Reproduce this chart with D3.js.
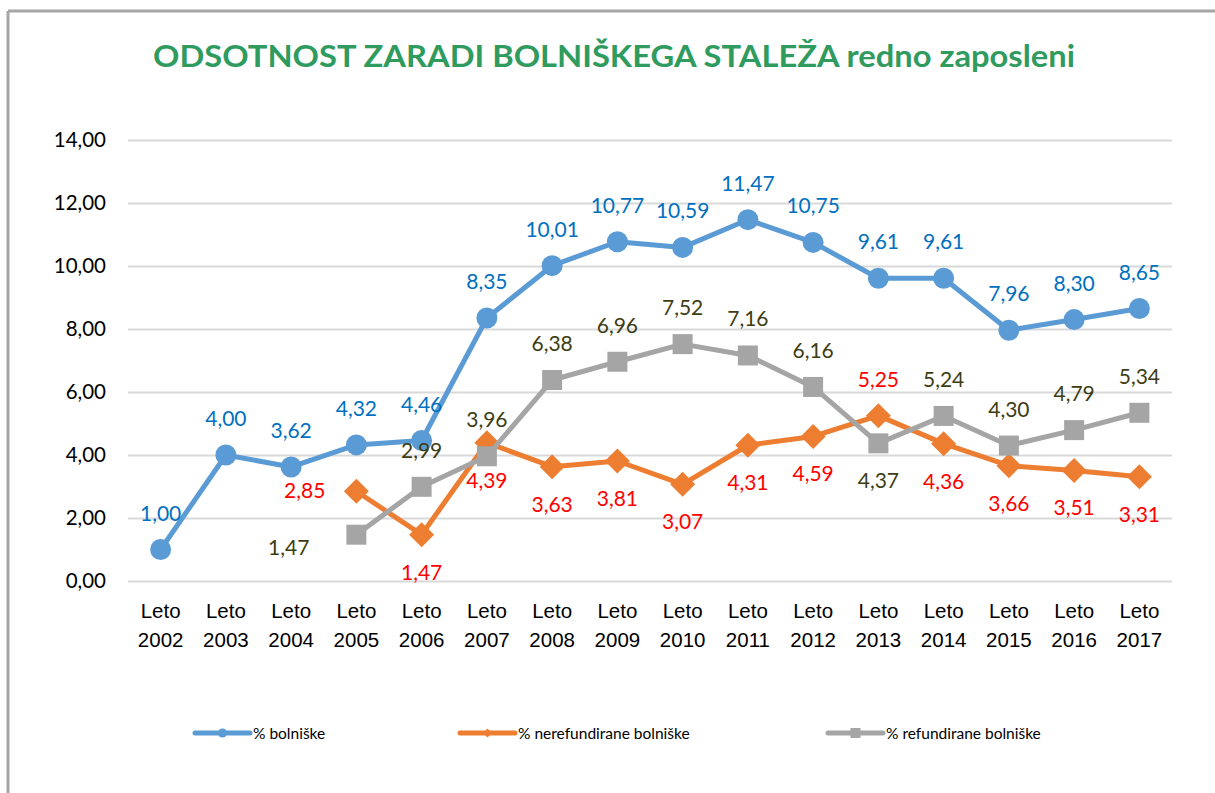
<!DOCTYPE html>
<html>
<head>
<meta charset="utf-8">
<script src="https://cdn.jsdelivr.net/npm/d3@7"></script>
<style>
  html, body { margin: 0; padding: 0; background: #fff; }
  svg { display: block; font-family: Lato, "Open Sans", sans-serif; }
</style>
</head>
<body>
<svg id="chart" width="1215" height="793"></svg>
<script>
const titleText = "ODSOTNOST ZARADI BOLNIŠKEGA STALEŽA redno zaposleni";
const years = ["2002","2003","2004","2005","2006","2007","2008","2009","2010","2011","2012","2013","2014","2015","2016","2017"];
const categoryPrefix = "Leto";
const yTicks = [0, 2, 4, 6, 8, 10, 12, 14];

const seriesNames = ["% bolniške", "% nerefundirane bolniške", "% refundirane bolniške"];
const bolniske = [1.00, 4.00, 3.62, 4.32, 4.46, 8.35, 10.01, 10.77, 10.59, 11.47, 10.75, 9.61, 9.61, 7.96, 8.30, 8.65];
const nerefundirane = [null, null, null, 2.85, 1.47, 4.39, 3.63, 3.81, 3.07, 4.31, 4.59, 5.25, 4.36, 3.66, 3.51, 3.31];
const refundirane = [null, null, null, 1.47, 2.99, 3.96, 6.38, 6.96, 7.52, 7.16, 6.16, 4.37, 5.24, 4.30, 4.79, 5.34];

// label placement (style only)
const placeBolniske = Array(16).fill("above");
const placeNeref = [null,null,null,"left","below","below","below","below","below","below","below","above","below","below","below","below"];
const placeRef = [null,null,null,"left2","above","above","above","above","above","above","above","below","above","above","above","above"];

const svg = d3.select("#chart");
const W = 1215, H = 793;

// frame
svg.append("line").attr("x1", 8).attr("x2", W).attr("y1", 11).attr("y2", 11)
  .attr("stroke", "#A6A6A6").attr("stroke-width", 3);
svg.append("line").attr("x1", 8).attr("x2", 8).attr("y1", 11).attr("y2", H)
  .attr("stroke", "#A6A6A6").attr("stroke-width", 3);

// title
svg.append("text").attr("x", 614).attr("y", 67).attr("text-anchor", "middle")
  .attr("font-size", 31).attr("font-weight", "bold").attr("fill", "#2F9B5E")
  .attr("textLength", 922).attr("lengthAdjust", "spacingAndGlyphs")
  .text(titleText);

const x = d3.scaleBand().domain(years).range([128, 1172]).paddingInner(0).paddingOuter(0);
const cx = d => x(d) + x.bandwidth() / 2;
const y = d3.scaleLinear().domain([0, 14]).range([581, 140]);

// gridlines
const yAxis = d3.axisLeft(y).tickValues(yTicks).tickSize(-(1172 - 128)).tickPadding(22)
  .tickFormat(d => d3.format(".2f")(d).replace(".", ","));
const gy = svg.append("g").attr("transform", "translate(128,0)").call(yAxis);
gy.select(".domain").remove();
gy.selectAll(".tick line").attr("stroke", "#D9D9D9").attr("stroke-width", 2);
gy.selectAll(".tick text").attr("font-size", 20.5).attr("fill", "#000").attr("font-family", "Lato, sans-serif");

// x axis labels
const xAxis = d3.axisBottom(x).tickSize(0).tickFormat("");
const gx = svg.append("g").attr("transform", "translate(0,581)").call(xAxis);
gx.select(".domain").remove();
gx.selectAll(".tick").each(function(d) {
  const t = d3.select(this).append("text").attr("text-anchor", "middle")
    .attr("font-size", 20.5).attr("fill", "#000");
  t.append("tspan").attr("x", 0).attr("y", 37).text(categoryPrefix);
  t.append("tspan").attr("x", 0).attr("y", 66).text(d);
});

const series = [
  { name: seriesNames[0], values: bolniske, place: placeBolniske, color: "#5B9BD5", label: "#0070C0", marker: "circle" },
  { name: seriesNames[1], values: nerefundirane, place: placeNeref, color: "#ED7D31", label: "#FF0000", marker: "diamond" },
  { name: seriesNames[2], values: refundirane, place: placeRef, color: "#A5A5A5", label: "#3D3D12", marker: "square" }
];

// marker paths, r = half-size
const markerPath = (m, r) => {
  if (m === "circle") return d3.symbol().type(d3.symbolCircle).size(Math.PI * r * r)();
  if (m === "diamond") return `M0,${-r}L${r},0L0,${r}L${-r},0Z`;
  return `M${-r},${-r}H${r}V${r}H${-r}Z`;
};
const markerR = { circle: 10.5, diamond: 12.5, square: 10 };

const line = d3.line().defined(d => d.v != null).x(d => cx(d.k)).y(d => y(d.v));

const drawOrder = [series[1], series[2], series[0]];
drawOrder.forEach(s => {
  const pts = years.map((k, i) => ({ k, v: s.values[i], p: s.place[i] }));
  const g = svg.append("g");
  g.append("path").datum(pts).attr("d", line).attr("fill", "none")
    .attr("stroke", s.color).attr("stroke-width", 5).attr("stroke-linejoin", "round");
  g.selectAll("path.m").data(pts.filter(d => d.v != null)).join("path").attr("class", "m")
    .attr("d", markerPath(s.marker, markerR[s.marker]))
    .attr("transform", d => `translate(${cx(d.k)},${y(d.v)})`)
    .attr("fill", s.color);
});

// labels on top
series.forEach(s => {
  const pts = years.map((k, i) => ({ k, v: s.values[i], p: s.place[i] })).filter(d => d.v != null);
  svg.append("g").selectAll("text").data(pts).join("text")
    .attr("font-size", 21).attr("fill", s.label)
    .attr("text-anchor", d => d.p.startsWith("left") ? "end" : "middle")
    .attr("x", d => d.p === "left" ? cx(d.k) - 31 : d.p === "left2" ? cx(d.k) - 47 : cx(d.k))
    .attr("y", d => {
      const py = y(d.v);
      if (d.p === "above") return py - 29;
      if (d.p === "below") return py + 45;
      if (d.p === "left2") return py + 20;
      return py + 7;
    })
    .text(d => d3.format(".2f")(d.v).replace(".", ","));
});

// legend
const legendItems = [
  { s: series[0], x: 195 },
  { s: series[1], x: 460 },
  { s: series[2], x: 828 }
];
const lg = svg.append("g").attr("transform", "translate(0,733)");
legendItems.forEach(it => {
  const g = lg.append("g").attr("transform", `translate(${it.x},0)`);
  g.append("line").attr("x1", 0).attr("x2", 55).attr("y1", 0).attr("y2", 0)
    .attr("stroke", it.s.color).attr("stroke-width", 5).attr("stroke-linecap", "round");
  g.append("path").attr("d", markerPath(it.s.marker, it.s.marker === "square" ? 5 : 4.5))
    .attr("transform", "translate(27.5,0)").attr("fill", it.s.color);
  g.append("text").attr("x", 58).attr("y", 5.5).attr("font-size", 15.5).attr("fill", "#000")
    .text(it.s.name);
});
</script>
</body>
</html>
